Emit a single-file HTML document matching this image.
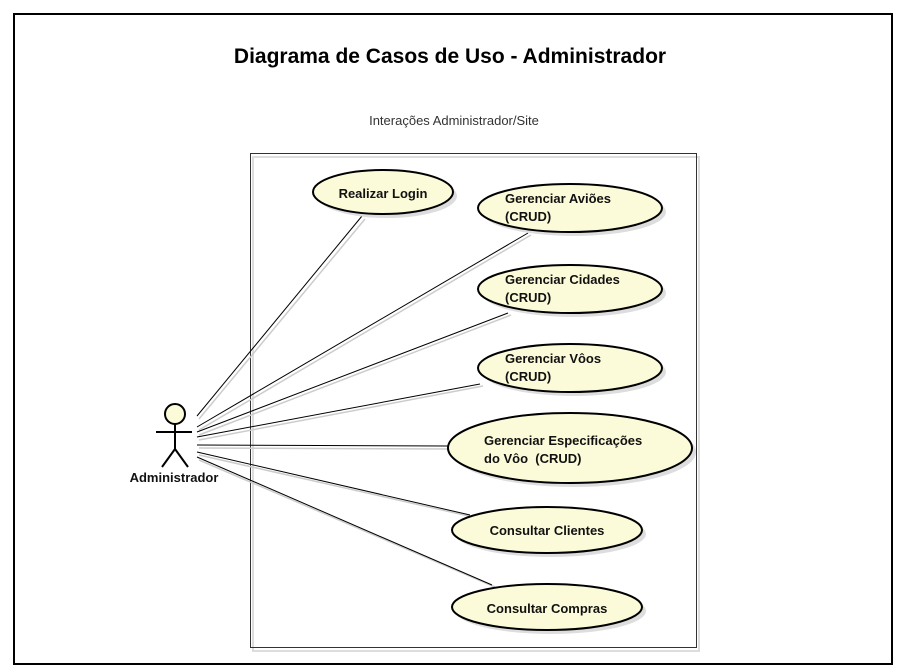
<!DOCTYPE html>
<html><head><meta charset="utf-8"><style>
html,body{margin:0;padding:0;background:#fff}
svg{display:block}
</style></head><body>
<svg width="898" height="671" viewBox="0 0 898 671" xmlns="http://www.w3.org/2000/svg" font-family="Liberation Sans, Arial, sans-serif">
<rect x="0" y="0" width="898" height="671" fill="#fff"/>
<rect x="14" y="14" width="878" height="650" fill="#fff" stroke="#000" stroke-width="2"/>
<text x="450" y="63" text-anchor="middle" font-size="21" font-weight="bold" fill="#000">Diagrama de Casos de Uso - Administrador</text>
<text x="454" y="125" text-anchor="middle" font-size="13" fill="#333">Interações Administrador/Site</text>
<rect x="253" y="157" width="446" height="494" fill="none" stroke="#ddd" stroke-width="2"/>
<rect x="250.5" y="153.5" width="446" height="494" fill="none" stroke="#333" stroke-width="1"/>
<g stroke="#ccc" stroke-width="1.5">
<line x1="199" y1="419" x2="365" y2="219"/>
<line x1="199" y1="430" x2="531" y2="235"/>
<line x1="199" y1="435" x2="511" y2="315"/>
<line x1="199" y1="440" x2="483" y2="386"/>
<line x1="199" y1="448" x2="450" y2="449"/>
<line x1="199" y1="455" x2="473" y2="517"/>
<line x1="199" y1="460" x2="495" y2="587"/>
</g>
<g stroke="#000" stroke-width="1">
<line x1="197" y1="416" x2="362" y2="216"/>
<line x1="197" y1="427" x2="528" y2="233"/>
<line x1="197" y1="432" x2="508" y2="313"/>
<line x1="197" y1="437" x2="480" y2="384"/>
<line x1="197" y1="445" x2="448" y2="446"/>
<line x1="197" y1="452" x2="470" y2="515"/>
<line x1="197" y1="457" x2="492" y2="585"/>
</g>
<g fill="#ddd" stroke="none">
<ellipse cx="387" cy="196" rx="70" ry="22"/>
<ellipse cx="574" cy="212" rx="92" ry="24"/>
<ellipse cx="574" cy="293" rx="92" ry="24"/>
<ellipse cx="574" cy="372" rx="92" ry="24"/>
<ellipse cx="574" cy="452" rx="122" ry="35"/>
<ellipse cx="551" cy="534" rx="95" ry="23"/>
<ellipse cx="551" cy="611" rx="95" ry="23"/>
</g>
<g fill="#fcfbd9" stroke="#000" stroke-width="2">
<ellipse cx="383" cy="192" rx="70" ry="22"/>
<ellipse cx="570" cy="208" rx="92" ry="24"/>
<ellipse cx="570" cy="289" rx="92" ry="24"/>
<ellipse cx="570" cy="368" rx="92" ry="24"/>
<ellipse cx="570" cy="448" rx="122" ry="35"/>
<ellipse cx="547" cy="530" rx="95" ry="23"/>
<ellipse cx="547" cy="607" rx="95" ry="23"/>
</g>
<g font-size="13" font-weight="bold" fill="#111">
<text x="383" y="198" text-anchor="middle">Realizar Login</text>
<text x="505" y="203">Gerenciar Aviões</text><text x="505" y="221">(CRUD)</text>
<text x="505" y="284">Gerenciar Cidades</text><text x="505" y="302">(CRUD)</text>
<text x="505" y="363">Gerenciar Vôos</text><text x="505" y="381">(CRUD)</text>
<text x="484" y="445">Gerenciar Especificações</text><text x="484" y="463">do Vôo&#160; (CRUD)</text>
<text x="547" y="535" text-anchor="middle">Consultar Clientes</text>
<text x="547" y="613" text-anchor="middle">Consultar Compras</text>
</g>
<g stroke="#000" stroke-width="2" fill="none">
<circle cx="175" cy="414" r="10" fill="#fcfbd9"/>
<line x1="156" y1="432" x2="192" y2="432"/>
<line x1="175" y1="424" x2="175" y2="449"/>
<line x1="175" y1="449" x2="162" y2="467"/>
<line x1="175" y1="449" x2="188" y2="467"/>
</g>
<text x="174" y="482" text-anchor="middle" font-size="13" font-weight="bold" fill="#111">Administrador</text>
</svg>
</body></html>
